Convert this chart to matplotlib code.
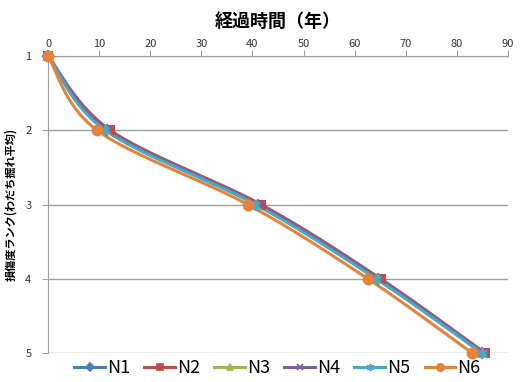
import numpy as np
import matplotlib
matplotlib.use("Agg")
import matplotlib.pyplot as plt

plt.rcParams['font.family'] = ['Noto Sans CJK JP', 'DejaVu Sans']

# damage rank reached at each elapsed time (years), per road section group
ranks = [1, 2, 3, 4, 5]
years_n1 = [0, 11.6, 41.0, 64.6, 85.0]
years_n2 = [0, 12.2, 41.7, 65.1, 85.5]
years_n3 = [0, 11.4, 40.9, 64.5, 85.0]
years_n4 = [0, 11.8, 41.3, 64.8, 85.2]
years_n5 = [0, 11.2, 40.6, 64.2, 84.9]
years_n6 = [0, 9.6, 39.1, 62.6, 83.0]

series = [
    ("N1", years_n1, "#4A7EBB", "D", 5),
    ("N2", years_n2, "#BE4B48", "s", 6),
    ("N3", years_n3, "#98B954", "^", 6),
    ("N4", years_n4, "#7D60A0", "x", 6),
    ("N5", years_n5, "#46AAC5", (6, 2, 0), 7),
    ("N6", years_n6, "#E8823A", "o", 7),
]


def smooth(xs, ys, n=40):
    # Catmull-Rom style bezier through the points, like a spreadsheet "smoothed line"
    pts = np.column_stack([xs, ys]).astype(float)
    ext = np.vstack([pts[0], pts, pts[-1]])
    out = []
    for i in range(1, len(ext) - 2):
        p0, p1, p2, p3 = ext[i - 1], ext[i], ext[i + 1], ext[i + 2]
        c1 = p1 + (p2 - p0) / 6.0
        c2 = p2 - (p3 - p1) / 6.0
        t = np.linspace(0, 1, n)[:, None]
        seg = ((1 - t) ** 3) * p1 + 3 * ((1 - t) ** 2) * t * c1 + 3 * (1 - t) * t ** 2 * c2 + t ** 3 * p2
        out.append(seg if i == 1 else seg[1:])
    seg = np.vstack(out)
    return seg[:, 0], seg[:, 1]


fig = plt.figure(figsize=(5.23, 3.82), dpi=100)
ax = fig.add_axes([0.092, 0.076, 0.879, 0.777])

handles = []
for name, xs, col, mk, ms in series:
    sx, sy = smooth(xs, ranks)
    ax.plot(sx, sy, color=col, lw=2.2, solid_capstyle='round', zorder=3)
    ax.plot(xs, ranks, ls='none', marker=mk, ms=ms, color=col,
            markeredgecolor=col, mew=1.5, zorder=4, clip_on=False)
    h, = ax.plot([], [], color=col, lw=2.2, marker=mk, ms=ms * 0.75, mew=1.2)
    handles.append(h)

ax.set_xlim(0, 90)
ax.set_ylim(5, 1)
ax.set_xticks(range(0, 91, 10))
ax.set_yticks(ranks)
ax.xaxis.tick_top()
ax.xaxis.set_label_position('top')
ax.grid(axis='y', color='#A0A0A0', lw=1)
ax.set_axisbelow(True)
for side in ['right', 'bottom']:
    ax.spines[side].set_visible(False)
for side in ['left', 'top']:
    ax.spines[side].set_color('#A0A0A0')
ax.tick_params(colors='#A0A0A0', labelcolor='#333333', labelsize=8, length=4)
ax.tick_params(axis='x', pad=1)
ax.tick_params(axis='y', pad=8)

ax.set_xlabel('経過時間（年）', fontsize=13, fontweight='bold', labelpad=9)
ax.set_ylabel('損傷度ランク(わだち掘れ平均)', fontsize=8, fontweight='bold', labelpad=6)

fig.legend(handles, [s[0] for s in series], loc='lower center', ncol=6,
           bbox_to_anchor=(0.53, -0.03), frameon=False, fontsize=13,
           handlelength=1.7, handletextpad=0.1, columnspacing=0.8)

fig.savefig('out.png', dpi=100)
